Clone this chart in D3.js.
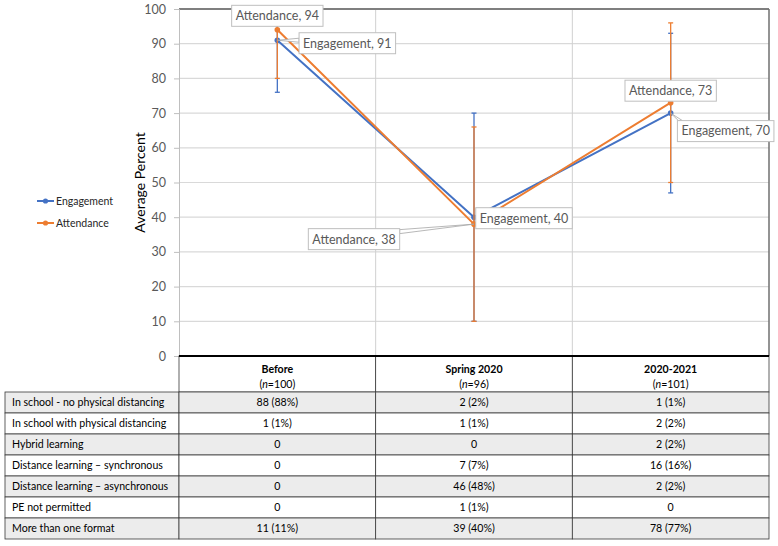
<!DOCTYPE html>
<html>
<head>
<meta charset="utf-8">
<script src="https://cdnjs.cloudflare.com/ajax/libs/d3/7.8.5/d3.min.js"></script>
<style>
body{margin:0;background:#fff;}
svg{display:block;font-family:Lato,"Liberation Sans",sans-serif;}
</style>
</head>
<body>
<svg id="chart"></svg>
<script>
//chart data
var periods = ["Before", "Spring 2020", "2020-2021"];
var sampleSizes = [100, 96, 101];
var engagement = [91, 40, 70];
var attendance = [94, 38, 73];
var engagementError = [15, 30, 23];
var attendanceError = [14, 28, 23];
var yTicks = [0, 10, 20, 30, 40, 50, 60, 70, 80, 90, 100];

//table data
var formats = [
	"In school - no physical distancing",
	"In school with physical distancing",
	"Hybrid learning",
	"Distance learning \u2013 synchronous",
	"Distance learning \u2013 asynchronous",
	"PE not permitted",
	"More than one format"
];
var beforeCounts = ["88 (88%)", "1 (1%)", "0", "0", "0", "0", "11 (11%)"];
var springCounts = ["2 (2%)", "1 (1%)", "0", "7 (7%)", "46 (48%)", "1 (1%)", "39 (40%)"];
var yearCounts = ["1 (1%)", "2 (2%)", "2 (2%)", "16 (16%)", "2 (2%)", "0", "78 (77%)"];

//label box placement (offset of box centre from its point), layout only
var labelOffsets = {
	Engagement: [{dx: 70, dy: 3}, {dx: 50, dy: 1}, {dx: 55, dy: 18}],
	Attendance: [{dx: 0, dy: -14}, {dx: -120, dy: 15}, {dx: 0, dy: -12}]
};

var series = [
	{name: "Engagement", values: engagement, errors: engagementError, color: "#4472C4"},
	{name: "Attendance", values: attendance, errors: attendanceError, color: "#ED7D31"}
];

var svgWidth = 778, svgHeight = 546;
var plot = {left: 179, right: 769, top: 9, bottom: 356};

var svg = d3.select("#chart")
	.attr("width", svgWidth)
	.attr("height", svgHeight);

var x = d3.scaleBand()
	.domain(periods)
	.range([plot.left, plot.right]);
var cx = function(i){ return x(periods[i]) + x.bandwidth() / 2; };

var y = d3.scaleLinear()
	.domain([0, 100])
	.range([plot.bottom, plot.top]);

svg.append("defs").append("clipPath")
	.attr("id", "plotClip")
	.append("rect")
	.attr("x", plot.left)
	.attr("y", plot.top)
	.attr("width", plot.right - plot.left)
	.attr("height", plot.bottom - plot.top);

//gridlines
svg.append("g")
	.selectAll("line")
	.data(yTicks)
	.join("line")
	.attr("x1", plot.left)
	.attr("x2", plot.right)
	.attr("y1", d => y(d))
	.attr("y2", d => y(d))
	.attr("stroke", "#d9d9d9")
	.attr("stroke-width", 1.2);

svg.append("g")
	.selectAll("line")
	.data(periods.slice(1))
	.join("line")
	.attr("x1", d => x(d))
	.attr("x2", d => x(d))
	.attr("y1", plot.top)
	.attr("y2", plot.bottom)
	.attr("stroke", "#d0d0d0");

//frame
svg.append("line")
	.attr("x1", plot.left).attr("x2", plot.right)
	.attr("y1", plot.top).attr("y2", plot.top)
	.attr("stroke", "#7f7f7f").attr("stroke-width", 2);
svg.append("line")
	.attr("x1", plot.right).attr("x2", plot.right)
	.attr("y1", plot.top).attr("y2", plot.bottom)
	.attr("stroke", "#6f6f6f").attr("stroke-width", 1.5);

//y axis
var yAxis = svg.append("g")
	.attr("transform", `translate(${plot.left},0)`)
	.call(d3.axisLeft(y).tickValues(yTicks).tickSize(5).tickPadding(8));
yAxis.select(".domain").attr("stroke", "#bfbfbf");
yAxis.selectAll(".tick line").attr("stroke", "#bfbfbf");
yAxis.selectAll("text")
	.attr("fill", "#595959")
	.style("font-size", "12.5px")
	.style("font-family", "Lato, 'Liberation Sans', sans-serif");

svg.append("text")
	.attr("transform", `translate(145,${(plot.top + plot.bottom) / 2}) rotate(-90)`)
	.attr("text-anchor", "middle")
	.style("font-size", "14px")
	.attr("fill", "#000")
	.text("Average Percent");

//series: error bars, lines, markers
var plotArea = svg.append("g").attr("clip-path", "url(#plotClip)");
var line = d3.line()
	.x((d, i) => cx(i))
	.y(d => y(d));

series.forEach(function(s){
	var g = plotArea.append("g");
	var bars = g.selectAll("g.err")
		.data(s.values)
		.join("g")
		.attr("class", "err")
		.attr("stroke", s.color)
		.attr("stroke-width", 1.3);
	bars.append("line")
		.attr("x1", (d, i) => cx(i)).attr("x2", (d, i) => cx(i))
		.attr("y1", (d, i) => y(d - s.errors[i]))
		.attr("y2", (d, i) => y(d + s.errors[i]));
	bars.append("line")
		.attr("x1", (d, i) => cx(i) - 2.5).attr("x2", (d, i) => cx(i) + 2.5)
		.attr("y1", (d, i) => y(d - s.errors[i]))
		.attr("y2", (d, i) => y(d - s.errors[i]));
	bars.append("line")
		.attr("x1", (d, i) => cx(i) - 2.5).attr("x2", (d, i) => cx(i) + 2.5)
		.attr("y1", (d, i) => y(d + s.errors[i]))
		.attr("y2", (d, i) => y(d + s.errors[i]));

	g.append("path")
		.attr("d", line(s.values))
		.attr("fill", "none")
		.attr("stroke", s.color)
		.attr("stroke-width", 2)
		.attr("stroke-linejoin", "round");

	g.selectAll("circle")
		.data(s.values)
		.join("circle")
		.attr("cx", (d, i) => cx(i))
		.attr("cy", d => y(d))
		.attr("r", 2.8)
		.attr("fill", s.color);
});

//data labels with leader lines
var clamp = function(v, a, b){ return Math.max(a, Math.min(b, v)); };
var labelLayer = svg.append("g");
series.forEach(function(s){
	s.values.forEach(function(v, i){
		var px = cx(i), py = y(v);
		var off = labelOffsets[s.name][i];
		var g = labelLayer.append("g");
		var lead = g.append("path");
		var box = g.append("rect");
		var txt = g.append("text")
			.attr("text-anchor", "middle")
			.attr("dy", "0.35em")
			.attr("x", px + off.dx)
			.attr("y", py + off.dy)
			.attr("fill", "#595959")
			.style("font-size", "12.5px")
			.text(s.name + ", " + v);
		var w = txt.node().getComputedTextLength() + 8, h = 21;
		var bx0 = px + off.dx - w / 2, by0 = py + off.dy - h / 2;
		var bx1 = bx0 + w, by1 = by0 + h;
		box.attr("x", bx0).attr("y", by0).attr("width", w).attr("height", h)
			.attr("fill", "#fff").attr("stroke", "#bfbfbf");

		var nx = clamp(px, bx0, bx1), ny = clamp(py, by0, by1);
		if(Math.hypot(nx - px, ny - py) > 5){
			var ex = Math.abs(nx - px), ey = Math.abs(ny - py);
			var b1, b2;
			if(ex >= ey){
				var y1 = clamp(ny - 2, by0 + 1, by1 - 5);
				b1 = [nx, y1]; b2 = [nx, y1 + 4];
			}else{
				var x1 = clamp(nx - 2, bx0 + 1, bx1 - 5);
				b1 = [x1, ny]; b2 = [x1 + 4, ny];
			}
			lead.attr("d", "M" + b1 + "L" + [px, py] + "L" + b2 + "Z")
				.attr("fill", "#fff")
				.attr("stroke", "#a6a6a6")
				.attr("stroke-width", 0.8);
		}
	});
});

//legend
var legend = svg.append("g")
	.selectAll("g")
	.data(series)
	.join("g")
	.attr("transform", (d, i) => `translate(37,${201 + i * 22})`);
legend.append("line")
	.attr("x1", 0).attr("x2", 17)
	.attr("stroke", d => d.color)
	.attr("stroke-width", 2);
legend.append("circle")
	.attr("cx", 8.5).attr("r", 2.6)
	.attr("fill", d => d.color);
legend.append("text")
	.attr("x", 19)
	.attr("dy", "0.35em")
	.style("font-size", "10.5px")
	.attr("fill", "#262626")
	.text(d => d.name);

//table below the chart
var columns = [beforeCounts, springCounts, yearCounts];
var labelCol = {left: 5, right: plot.left};
var headerBottom = 392;
var rowY = d3.scaleBand()
	.domain(d3.range(formats.length))
	.range([headerBottom, 539]);
var tableStroke = "#3a3a3a";
var table = svg.append("g").style("font-size", "10.6px");

//header cells
var header = table.selectAll("g.head")
	.data(periods)
	.join("g")
	.attr("class", "head");
header.append("rect")
	.attr("x", d => x(d))
	.attr("y", plot.bottom)
	.attr("width", x.bandwidth())
	.attr("height", headerBottom - plot.bottom)
	.attr("fill", "#fff")
	.attr("stroke", tableStroke)
	.attr("stroke-width", 0.8);
header.append("text")
	.attr("x", d => x(d) + x.bandwidth() / 2)
	.attr("y", 373)
	.attr("text-anchor", "middle")
	.attr("font-weight", "bold")
	.attr("fill", "#000")
	.text(d => d);
var nLine = header.append("text")
	.attr("x", d => x(d) + x.bandwidth() / 2)
	.attr("y", 387.5)
	.attr("text-anchor", "middle")
	.attr("fill", "#000");
nLine.append("tspan").text("(");
nLine.append("tspan").attr("font-style", "italic").text("n");
nLine.append("tspan").text((d, i) => "=" + sampleSizes[i] + ")");

//body rows
var rows = table.selectAll("g.row")
	.data(formats)
	.join("g")
	.attr("class", "row");
rows.append("rect")
	.attr("x", labelCol.left)
	.attr("y", (d, i) => rowY(i))
	.attr("width", labelCol.right - labelCol.left)
	.attr("height", rowY.bandwidth())
	.attr("fill", (d, i) => i % 2 === 0 ? "#ececec" : "#fff")
	.attr("stroke", tableStroke)
	.attr("stroke-width", 0.8);
rows.append("text")
	.attr("x", labelCol.left + 7)
	.attr("y", (d, i) => rowY(i) + rowY.bandwidth() / 2)
	.attr("dy", "0.35em")
	.attr("fill", "#000")
	.text(d => d);
periods.forEach(function(p, c){
	rows.append("rect")
		.attr("x", x(p))
		.attr("y", (d, i) => rowY(i))
		.attr("width", x.bandwidth())
		.attr("height", rowY.bandwidth())
		.attr("fill", (d, i) => i % 2 === 0 ? "#ececec" : "#fff")
		.attr("stroke", tableStroke)
		.attr("stroke-width", 0.8);
	rows.append("text")
		.attr("x", x(p) + x.bandwidth() / 2)
		.attr("y", (d, i) => rowY(i) + rowY.bandwidth() / 2)
		.attr("dy", "0.35em")
		.attr("text-anchor", "middle")
		.attr("fill", "#000")
		.text((d, i) => columns[c][i]);
});

//heavy rule at the chart baseline
table.append("line")
	.attr("x1", plot.left).attr("x2", plot.right)
	.attr("y1", plot.bottom).attr("y2", plot.bottom)
	.attr("stroke", "#000")
	.attr("stroke-width", 2);
</script>
</body>
</html>
